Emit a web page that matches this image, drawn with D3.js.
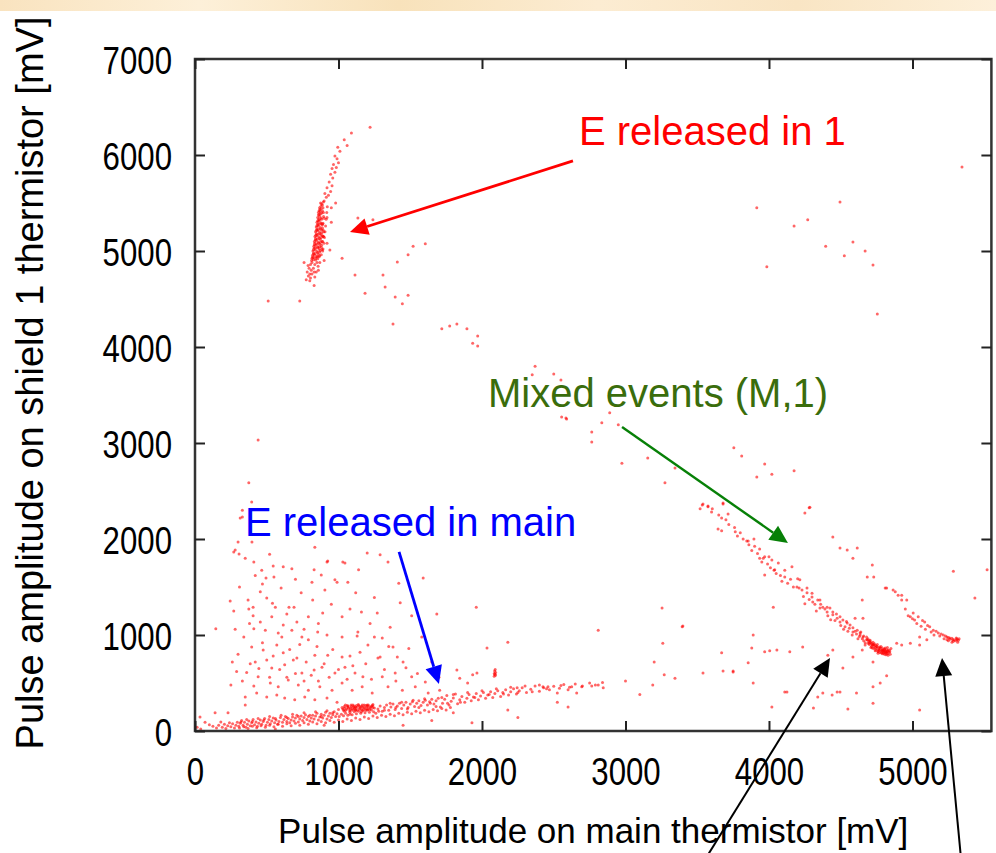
<!doctype html>
<html>
<head>
<meta charset="utf-8">
<script src="https://cdn.jsdelivr.net/npm/d3@7"></script>
<style>
  body { margin: 0; background: #fff; }
  svg text { font-family: "Liberation Sans", Arial, sans-serif; }
</style>
</head>
<body>
<svg width="996" height="853"></svg>
<script>
// axis ticks and titles
const xTicks = [0, 1000, 2000, 3000, 4000, 5000]
const yTicks = [0, 1000, 2000, 3000, 4000, 5000, 6000, 7000]
const xTitle = "Pulse amplitude on main thermistor [mV]"
const yTitle = "Pulse amplitude on shield 1 thermistor [mV]"

// annotations (text anchor and arrow ends in mV)
const noteText = ["E released in 1", "Mixed events (M,1)", "E released in main"]
const noteAt = [[2676, 6104], [2042, 3375], [348, 2031]]
const arrowFrom = [[2634, 5938], [2976, 3167], [1422, 1865], [3561, -1323], [5338, -1323]]
const arrowTo = [[1080, 5198], [4132, 1958], [1700, 490], [4425, 760], [5206, 760]]

// events: [main amplitude, shield 1 amplitude] in mV
const shieldEvents = [
  [775,4700],[790,4740],[782,4780],[800,4760],[795,4820],[810,4800],[805,4860],[788,4850],[815,4880],
  [812,4900],[825,4910],[840,4905],[855,4920],[820,4930],[818,4950],[832,4960],[847,4945],[860,4965],[826,4980],
  [822,5000],[838,5010],[850,4995],[865,5020],[830,5030],[828,5050],[842,5060],[856,5045],[870,5070],[835,5080],
  [832,5100],[846,5110],[860,5095],[874,5120],[840,5130],[836,5150],[850,5160],[864,5145],[878,5170],[845,5180],
  [840,5200],[854,5210],[868,5195],[882,5220],[850,5230],[845,5250],[858,5260],[872,5245],[886,5270],[855,5280],
  [850,5300],[862,5310],[876,5295],[862,5330],[855,5350],[868,5360],[880,5345],[866,5380],
  [860,5400],[872,5410],[884,5395],[870,5430],[868,5450],[878,5465],[888,5480],[875,5500],
  [870,4880],[858,4840],[845,4780],[835,4730],[880,4960],[892,5020],[898,5080],[902,5140],[906,5200],[910,5260],
  [914,5330],[918,5400],[922,5460],[895,5400],[900,5340],[890,5280],[893,5220],[888,5160],[885,5100],[880,5040],
  [870,4990],[865,4940],[850,4880],[835,4860],[825,4820],[815,4760],[805,4720],[800,4690],[830,4780],
  [815,4925],[828,4935],[842,4925],[852,4940],[868,4950],[824,4965],[838,4975],[855,4985],[872,5005],[885,5015],
  [826,5015],[840,5030],[855,5035],[868,5045],[882,5060],[832,5065],[848,5075],[862,5080],[876,5090],[890,5100],
  [838,5115],[852,5125],[866,5130],[880,5140],[894,5150],[842,5165],[856,5175],[870,5180],[884,5190],[898,5200],
  [846,5215],[860,5225],[874,5230],[888,5240],[850,5265],[864,5275],[878,5285],[892,5290],[855,5315],[868,5325],
  [882,5330],[896,5360],[860,5375],[874,5385],[888,5420],[865,5420],[878,5440],[892,5450],[882,5490],[894,5510],
  [900,5520],[915,5560],[905,5600],[930,5580],[945,5620],[920,5660],[955,5680],[935,5720],[960,5760],[945,5800],
  [975,5820],[955,5860],[985,5870],[965,5900],[990,5960],[1000,5920],[975,5990],[1010,6040],[995,6080],[1060,6100],
  [1040,6160],[1090,6230],[1220,6290],[950,5450],[980,5500],[920,5350],[950,5300],[895,5150],[920,5080],[890,5000],
  [900,4900],[860,4800],[830,4640],[760,4880],[1135,5345],[1240,5325],[1310,4750],[940,5010],[1025,4925],
  [1115,4750],[1185,4560],[1325,4625],[1395,4520],[1485,4540],[1445,4450],[1485,4960],[1410,4885],[1520,5050],
  [1605,5075],[1380,4240],[510,4480],[730,4480],[1720,4190],[1775,4220],[1825,4240],[1895,4190],[1970,4115],
  [1935,4040],[1970,4010],[2370,3800],[2350,3710],[2500,3720],[2550,3655],[2555,3270],[2590,3250],[2765,3115],
  [2765,3010],[440,3030],[375,2585],[395,2385],[330,2230],
  [5345,5875],[3915,5450],[4495,5510],[4270,5325],[4175,5260],[4395,5050],[4585,5095],[4670,5000],[4525,4950],
  [4725,4855],[3985,4835],[4755,4345]
]

const mixedEvents = [
  [2890,3315],[2835,3210],[2950,3190],[2975,2790],[3155,2845],[3345,2740],[3275,2585],[3755,2950],[3810,2865],
  [3970,2780],[4020,2675],[4175,2710],[3915,2645],[3535,2355],[3575,2335],[3680,2375],[4280,2325],[4250,2270],[2585,3260],
  [3520,2315],[3540,2365],[3575,2345],[3605,2315],[3680,2365],[3715,2260],[3670,2220],[3645,2105],[3670,2085],
  [3765,2075],[3800,2065],[3855,1980],[3895,2000],[3935,1895],[3935,1800],[3960,1800],[4000,1815],[4020,1780],
  [4035,1675],[4065,1750],[4110,1675],[4160,1710],[3970,1625],[4200,1585],[4195,1500],[4230,1470],[4265,1440],
  [4300,1395],[4250,1325],[4305,1345],[4340,1365],[4355,1280],[4375,1290],[4405,1240],[4425,1280],[4445,1210],
  [4475,1175],[4495,1135],[4515,1155],[4530,1085],[4565,1105],[4585,1030],[4615,1050],[4635,1000],[4655,980],
  [4685,950],[4705,925],[4725,895],[4755,875],[4775,865],[4795,845],[4820,825],[4670,895],[4720,865],[4760,825],
  [4785,815],[4810,865],[4830,845],
  [4700,900],[4715,880],[4730,860],[4745,845],[4760,830],[4775,815],[4790,805],[4805,800],[4820,810],[4835,820],
  [4810,830],[4790,845],[4770,860],[4750,880],[4730,900],[4712,920],[4695,935],[4680,950],[4760,810],[4800,820],
  [4820,845],[4780,830],[4740,870],[4720,895],[4840,840],[4690,915],[4650,960],[4630,985],[4610,1010],[4660,940],
  [4700,915],[4718,905],[4735,885],[4752,860],[4768,845],[4785,840],[4800,835],[4815,825],[4828,830],[4842,825],
  [4798,810],[4812,815],[4826,805],[4770,875],[4790,865],[4805,850],[4745,890],[4725,925],[4705,945],[4690,960],
  [3600,2280],[3650,2250],[3700,2200],[3720,2150],[3760,2120],[3780,2030],[3820,2000],[3860,1940],[3880,1880],
  [3920,1850],[3950,1760],[3990,1740],[4010,1700],[4050,1640],[4080,1620],[4090,1560],[4130,1540],[4150,1580],
  [4170,1500],[4210,1490],[4240,1400],[4280,1370],[4320,1320],[4330,1250],[4360,1320],[4390,1270],[4410,1200],
  [4430,1160],[4460,1150],[4470,1220],[4500,1100],[4520,1060],[4540,1140],[4550,1040],[4560,1070],[4580,1000],
  [4600,1040],[4620,960],[4640,1030],[4660,990],[4670,920],[4680,980],[4700,940],[4710,870],[4735,910],[4740,835],
  [4755,900],[4765,845],[4780,880],[4795,830],[4805,855],[4815,795],[4825,870],[4845,800],[4850,860],[4830,790],
  [4285,2330],[3845,1980],[3900,1925],[3970,1815],[4040,1680],[4110,1605],[4215,1575],[4265,1490],[4300,1435],
  [4355,1365],[4405,1290],[4445,1240],[4495,1190],[4545,1125],[4585,1075],[4635,1020],[4445,2020],[4495,1905],
  [4615,1905],[4585,1800],[4720,1730],[4730,1605],[4685,1605],[4810,1490],[4865,1470],[4900,1415],[4925,1365],
  [4650,1365],[4655,1175],[4600,1175],[4030,1290],[5285,1665],[5435,1385],[5520,1680],
  [4820,1490],[4880,1450],[4925,1415],[4960,1365],[5005,1230],[5040,1190],[5085,1135],[5120,1085],[5145,1050],
  [5180,1020],[5215,1000],[5240,980],[5260,970],[5280,950],[5310,950],[5315,925],[5275,925],[5240,950],[4890,915],
  [4925,895],[4985,915],[5050,895],[5100,950],[5050,980],[5015,1155],[4985,1190],[5260,955],[5290,950],[5300,940],
  [5275,965],[5250,975],[5310,960],[5320,945],[5230,990],[5200,1010],[5165,1040],[5105,1100],[5070,1150],
  [4950,1270],[4970,1200],[5000,1170],[5030,1120],[5060,1090],[5090,1060],[5130,1030],[5150,1000],[5190,990],
  [5220,960],[5250,940],[5285,935],[5305,970],[5325,960],
  [4545,1885],[3890,1000],[3670,815],[3540,605],[3890,500],[3855,710],[3970,825],[4005,835],[4055,845],[4145,825],
  [4235,875],[4445,845],[4410,790],[4515,655],[4585,770],[4650,845],[4725,720],[4775,500],[4375,395],[4475,405],
  [4725,460],[3400,1095],[3750,615],[4125,405],[3880,865],[4110,405],[4020,250],[4340,355],[4310,240],[4440,375],
  [4495,405],[4610,395],[4725,290],[4550,230],[5050,220],[4820,575],
  [2810,1050],[3255,1280],[3395,1085],[3260,915],[3200,720],[3270,585],[3345,550],[3680,625],[3750,625],[3190,480]
]

const mainEvents = [
  [15,40],[40,20],[70,90],[100,65],[125,50],[150,30],[165,60],[180,95],[190,40],[205,70],[215,25],[228,55],
  [240,85],[250,45],[262,75],[275,30],[285,60],[295,90],
  [305,50],[315,80],[325,110],[335,60],[345,90],[355,40],[365,70],[375,105],[385,55],[395,85],[405,120],[415,65],
  [425,95],[435,50],[445,80],[455,115],[465,70],[475,100],[485,130],[495,60],[505,90],[515,120],[525,75],[535,105],
  [545,135],[555,85],[565,115],[575,70],[585,100],[595,140],
  [610,90],[620,120],[630,150],[640,100],[650,130],[660,85],[670,115],[680,145],[690,105],[700,135],[710,165],
  [720,95],[730,125],[740,155],[750,110],[760,140],[770,170],[780,120],[790,150],[800,105],[810,135],[820,165],
  [830,125],[840,155],[850,185],[860,115],[870,145],[880,175],[890,135],[900,165],[910,195],[920,125],[930,155],
  [940,185],[950,140],[960,170],[970,200],[980,150],[990,180],
  [1005,150],[1020,175],[1035,160],[1050,185],[1065,165],[1080,195],[1095,170],[1110,200],[1125,180],[1140,205],
  [1155,185],[1170,210],[1185,190],[1200,215],[1215,195],[1230,220],[1245,200],
  [1030,230],[1040,255],[1050,215],[1060,265],[1070,240],[1080,225],[1090,255],[1100,270],[1110,235],[1120,250],
  [1130,215],[1140,265],[1150,240],[1160,255],[1170,225],[1180,245],[1190,265],[1200,235],[1210,255],[1220,240],
  [1230,260],[1240,245],[1045,240],[1065,250],[1085,240],[1105,250],[1125,265],[1145,230],[1165,270],[1185,235],[1205,225],
  [1025,245],[1035,220],[1048,270],[1058,230],[1068,260],[1078,210],[1088,270],[1098,230],[1108,260],[1118,215],
  [1128,245],[1138,275],[1148,255],[1158,225],[1168,250],[1178,270],[1188,215],[1198,255],[1208,270],[1218,225],
  [1228,250],[1238,265],[1250,240],[1115,240],[1095,215],
  [1260,185],[1275,230],[1290,260],[1305,205],[1320,245],[1335,270],[1350,215],[1365,250],[1380,280],[1395,225],
  [1410,260],[1425,290],[1440,235],[1455,270],[1470,300],[1485,245],[1500,280],[1515,305],[1530,255],[1545,290],
  [1560,315],[1575,265],[1590,300],[1605,320],[1620,270],[1635,305],[1650,330],[1665,280],[1680,315],[1695,340],
  [1710,250],[1725,290],[1740,330],[1755,370],[1770,270],[1785,310],[1800,345],[1815,385],[1830,285],[1845,325],
  [1860,360],[1880,300],[1895,340],[1910,380],[1925,315],[1940,355],[1960,390],[1975,325],[1990,365],[2010,400],
  [2025,340],[2040,375],[2060,410],[2075,350],[2090,390],[2110,420],[2130,360],[2145,400],[2165,430],[2185,375],
  [2200,410],[2220,440],[2240,385],[2260,420],[2280,450],
  [2310,400],[2340,435],[2370,470],[2400,415],[2430,450],[2470,430],[2500,465],[2540,445],[2570,485],[2610,455],
  [2650,490],[2700,470],[2750,500],[2790,480],[2840,505],
  [310,30],[340,45],[370,25],[400,50],[430,35],[460,55],[490,40],[520,60],[550,45],[580,70],[610,50],[640,75],
  [670,55],[700,80],[730,60],[760,85],[790,70],[820,95],[850,75],[880,100],[910,85],[940,110],[970,90],[1000,115],
  [1030,100],[1060,125],[1090,110],[1120,135],[1150,120],[1180,145],[1210,130],[1240,155],[1270,140],[1300,165],
  [1330,150],[1360,175],[1390,160],[1420,185],[1450,170],[1480,195],[1510,180],[1540,205],[1570,190],[1600,215],
  [1630,200],[1660,225],[1690,210],[1720,235],[1750,220],[1780,245],
  [320,95],[360,120],[400,100],[440,130],[480,115],[520,150],[560,130],[600,165],[640,140],[680,175],[720,150],
  [760,190],[800,165],[840,200],[880,150],[920,210],[960,190],[1000,225],[1040,205],[1080,175],[1120,220],[1160,200],
  [1200,270],[1240,275],[1280,205],[1320,215],[1360,290],[1400,245],[1440,300],[1480,230],[1520,320],[1560,245],
  [1600,335],[1640,290],[1680,255],[1720,350],[1760,290],[1800,380],[1850,300],[1900,400],[1950,350],[2000,420],
  [2050,380],[2100,440],[2150,385],[2200,455],[2250,400],[2300,470],[2350,410],[2400,480],[2450,440],[2550,475],[2600,430],
  [2085,570],[2090,590],[2095,610],[2088,625],[2092,640],[2086,600],[2094,580],
  [300,1970],[397,1970],[270,1865],[307,1844],[350,1800],[410,1760],[615,1710],[545,1720],[675,1690],[1045,1750],
  [925,1770],[1200,1855],[1345,1760],[1290,1835],[465,1675],[495,1595],[550,1605],[880,1625],[990,1550],[1065,1550],
  [815,1550],[455,1450],[600,1490],[740,1440],[905,1470],[370,1365],[245,1355],[500,1385],[655,1290],[560,1290],
  [405,1290],[375,1270],[690,1290],[820,1365],[890,1230],[1080,1270],[1025,1190],[1270,1230],[1430,1335],[1510,1200],
  [405,1200],[455,1135],[535,1190],[615,1105],[710,1135],[790,1190],[410,1065],[490,1050],[580,1020],[675,1050],
  [745,980],[855,1030],[920,1000],[1025,980],[1130,990],[1135,1030],[1205,895],[1305,970],[1380,875],[395,875],
  [475,845],[570,895],[615,815],[710,760],[790,950],[835,790],[925,790],[1025,770],[420,720],[500,740],[535,655],
  [625,690],[685,740],[745,605],[830,635],[885,665],[975,605],[1045,665],[1115,605],[1170,565],[1275,760],[1305,565],
  [1395,605],[1450,720],[1510,565],[1605,510],[440,565],[525,500],[580,460],[650,530],[720,480],[790,425],[870,460],
  [955,425],[1025,500],[1095,425],[1165,460],[1235,395],[1345,460],[1445,425],[1535,460],[1625,395],[1705,425],
  [430,395],[500,355],[570,375],[625,345],[695,325],[765,355],[835,325],[920,345],[990,300],[350,355],[350,270],
  [230,190],[140,190],[145,1065],[315,2220],[330,2300],[280,1885],[835,1915],[920,1760],[1030,1760],[1590,1595],
  [975,1575],[1685,1220],[1960,1290],[2180,925],[2035,865],[1825,635],[1965,605],[1290,770],[1410,770],
  [1935,585],[1845,550],[1900,500],[2245,450],[2425,460],[2460,460],[2525,395],[2625,460],[2695,460],[2765,470],
  [2810,480],[2845,450],[2660,395],[2525,300],[2180,220],[1930,85],[1800,190],[35,145],[560,20],[900,60],
  [330,520],[360,610],[385,700],[410,470],[445,650],[470,920],[520,560],[545,780],[590,640],[605,980],[640,560],
  [660,850],[700,600],[730,900],[760,520],[775,720],[810,580],[850,880],[860,520],[900,700],[935,560],[960,850],
  [1000,640],[1060,540],[1080,780],[1100,680],[1150,820],[1190,700],[1230,540],[1250,980],[1320,640],[1350,880],
  [1400,520],[1470,660],[1550,600],[1650,720],[1700,560],[1580,980],[1490,860],[1360,1080],[1220,1120],[1160,1240],
  [950,1320],[860,1120],[760,1060],[640,1220],[540,1330],[470,1530],[420,1620],[380,1120],[340,980],[300,800],
  [290,620],[270,1250],[1120,1440],[1250,1390],[1420,1540],[830,1680],[700,1580],[520,1840],[1140,1680],[310,1500],
  [280,1060],[260,720],[250,480],[1450,60],[1650,110],[2250,140],[2600,250],[3000,520],[3100,380]
]

let svg = d3.select("svg")

let x = d3.scaleLinear().domain([0, 5550]).range([195, 991.4])
let y = d3.scaleLinear().domain([0, 7000]).range([731, 59])

let defs = svg.append("defs")

// slide background strip at the top
let grad = defs.append("linearGradient").attr("id", "strip")
grad.selectAll("stop")
  .data(["#f9e3bf", "#fdf0d9", "#f8e2bb", "#fcecd2", "#f9e5c4", "#fdf0da"])
  .enter().append("stop")
  .attr("offset", (d, i) => i / 5)
  .attr("stop-color", d => d)
svg.append("rect").attr("x", 0).attr("y", 0).attr("width", 996).attr("height", 11).attr("fill", "url(#strip)")

// soft dots like the scanned original
defs.append("filter").attr("id", "soft")
  .attr("x", "-5%").attr("y", "-5%").attr("width", "110%").attr("height", "110%")
  .append("feGaussianBlur").attr("stdDeviation", 0.4)

// events
svg.append("g")
    .attr("filter", "url(#soft)")
  .selectAll("circle")
  .data(mainEvents.concat(shieldEvents, mixedEvents))
  .enter().append("circle")
    .attr("cx", d => x(d[0]))
    .attr("cy", d => y(d[1]))
    .attr("r", 1.5)
    .attr("fill", "#ff0000")
    .attr("fill-opacity", 0.6)

// frame
svg.append("rect")
  .attr("x", x(0)).attr("y", y(7000))
  .attr("width", x(5550) - x(0)).attr("height", y(0) - y(7000))
  .attr("fill", "none").attr("stroke", "#333").attr("stroke-width", 2.5)

let sx = 0.8

let gx = svg.append("g").attr("transform", `translate(0,${y(0)})`)
  .call(d3.axisBottom(x).tickValues(xTicks).tickSize(-10).tickFormat(d3.format("d")))
gx.select(".domain").remove()
gx.selectAll("text").attr("font-size", 39).attr("y", 54).attr("dy", 0)
  .attr("transform", `scale(${sx},1)`).attr("fill", "#000")

let gy = svg.append("g").attr("transform", `translate(${x(0)},0)`)
  .call(d3.axisLeft(y).tickValues(yTicks).tickSize(-10).tickFormat(d3.format("d")))
gy.select(".domain").remove()
gy.selectAll("text").attr("font-size", 39).attr("x", -23 / sx).attr("dy", "0.37em")
  .attr("transform", `scale(${sx},1)`).attr("fill", "#000")

let gt = svg.append("g").attr("transform", `translate(0,${y(7000)})`)
  .call(d3.axisTop(x).tickValues(xTicks).tickSize(-10).tickFormat(""))
gt.select(".domain").remove()

let gr = svg.append("g").attr("transform", `translate(${x(5550)},0)`)
  .call(d3.axisRight(y).tickValues(yTicks).tickSize(-10).tickFormat(""))
gr.select(".domain").remove()

svg.selectAll(".tick line").attr("stroke", "#222").attr("stroke-width", 2)

// axis titles
svg.append("text")
  .attr("transform", `translate(${(x(0) + x(5550)) / 2},843)`)
  .attr("text-anchor", "middle").attr("font-size", 35)
  .text(xTitle)

svg.append("text")
  .attr("transform", "translate(43,383) rotate(-90)")
  .attr("text-anchor", "middle").attr("font-size", 38)
  .text(yTitle)

// annotations
let noteColor = ["#ff0000", "#3a6d0c", "#0000ff"]
svg.selectAll(".note")
  .data(noteText)
  .enter().append("text")
    .attr("class", "note")
    .attr("x", (d, i) => x(noteAt[i][0]))
    .attr("y", (d, i) => y(noteAt[i][1]))
    .attr("font-size", 40)
    .attr("fill", (d, i) => noteColor[i])
    .text(d => d)

let arrowColor = ["#ff0000", "#078007", "#0000ff", "#000", "#000"]
let arrowWidth = [2.8, 2.4, 2.8, 2, 2]
let headLen = 18, headHalf = 8.5

arrowFrom.forEach(function(a, i) {
  let x1 = x(a[0]), y1 = y(a[1])
  let x2 = x(arrowTo[i][0]), y2 = y(arrowTo[i][1])
  let len = Math.hypot(x2 - x1, y2 - y1)
  let ux = (x2 - x1) / len, uy = (y2 - y1) / len
  let bx = x2 - ux * headLen, by = y2 - uy * headLen
  svg.append("line")
    .attr("x1", x1).attr("y1", y1).attr("x2", bx).attr("y2", by)
    .attr("stroke", arrowColor[i]).attr("stroke-width", arrowWidth[i])
  svg.append("polygon")
    .attr("points", [[x2, y2], [bx - uy * headHalf, by + ux * headHalf], [bx + uy * headHalf, by - ux * headHalf]].join(" "))
    .attr("fill", arrowColor[i])
})
</script>
</body>
</html>
